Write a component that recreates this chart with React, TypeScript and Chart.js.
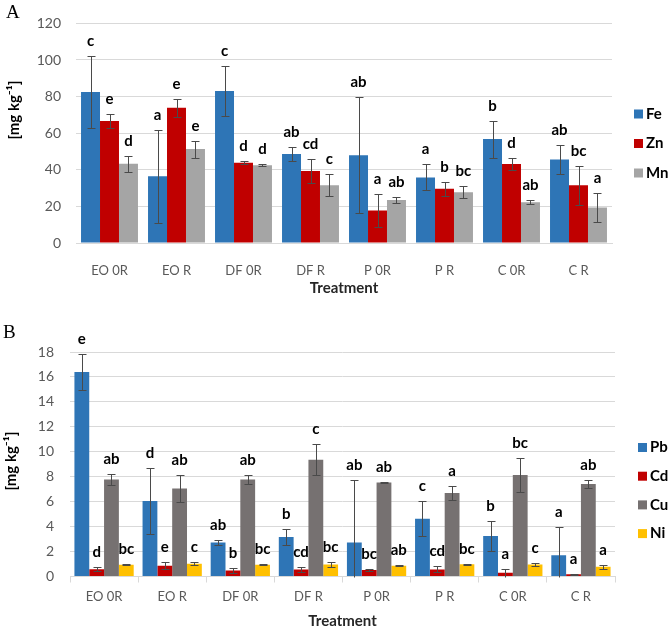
import React, { useEffect, useRef } from 'react';
import { Chart, registerables } from 'chart.js';

Chart.register(...registerables);

// ---------- data ----------
const categories = ['EO 0R', 'EO R', 'DF 0R', 'DF R', 'P 0R', 'P R', 'C 0R', 'C R'];

// Panel A
const feValues = [82.5, 36.5, 83.0, 48.6, 48.0, 35.8, 56.8, 45.6];
const feErrors = [19.5, 25.5, 13.8, 3.6, 31.8, 7.1, 10.1, 7.8];
const feLetters = ['c', 'a', 'c', 'ab', 'ab', 'a', 'b', 'ab'];

const znValues = [66.7, 73.9, 43.8, 39.4, 17.8, 29.6, 43.2, 31.5];
const znErrors = [4.0, 4.8, 0.9, 6.5, 8.8, 3.8, 3.5, 10.8];
const znLetters = ['e', 'e', 'd', 'cd', 'a', 'b', 'd', 'bc'];

const mnValues = [43.3, 51.3, 42.5, 31.5, 23.5, 27.8, 22.3, 19.4];
const mnErrors = [4.5, 4.6, 0.6, 6.0, 1.5, 3.1, 1.0, 7.7];
const mnLetters = ['d', 'e', 'd', 'c', 'ab', 'bc', 'ab', 'a'];

// Panel B
const pbValues = [16.4, 6.05, 2.73, 3.17, 2.73, 4.63, 3.25, 1.71];
const pbErrors = [1.45, 2.65, 0.23, 0.63, 5.03, 1.4, 1.2, 2.25];
const pbLetters = ['e', 'd', 'ab', 'b', 'ab', 'c', 'b', 'a'];

const cdValues = [0.58, 0.86, 0.49, 0.57, 0.53, 0.57, 0.3, 0.19];
const cdErrors = [0.17, 0.27, 0.18, 0.2, 0.06, 0.24, 0.32, 0.05];
const cdLetters = ['d', 'e', 'b', 'cd', 'bc', 'cd', 'a', 'a'];

const cuValues = [7.77, 7.05, 7.77, 9.37, 7.54, 6.7, 8.13, 7.41];
const cuErrors = [0.47, 1.1, 0.37, 1.27, 0.06, 0.58, 1.38, 0.32];
const cuLetters = ['ab', 'ab', 'ab', 'c', 'ab', 'a', 'bc', 'ab'];

const niValues = [0.94, 1.02, 0.94, 0.96, 0.86, 0.98, 0.97, 0.79];
const niErrors = [0.05, 0.13, 0.05, 0.18, 0.05, 0.04, 0.12, 0.15];
const niLetters = ['bc', 'c', 'bc', 'bc', 'ab', 'bc', 'c', 'a'];

const yTicksA = { min: 0, max: 120, step: 20 };
const yTicksB = { min: 0, max: 18, step: 2 };
const yAxisTitle = '[mg kg⁻¹]';
const xAxisTitle = 'Treatment';

// ---------- styles ----------
const FONT = 'Lato, "Liberation Sans", sans-serif';
const BLUE = '#2E75B6';
const RED = '#C00000';
const LIGHTGRAY = '#A5A5A5';
const DARKGRAY = '#767171';
const GOLD = '#FFC000';
const GRID = '#D9D9D9';
const TICK = '#595959';

const annotatePlugin = {
  id: 'annotate',
  afterDatasetsDraw(chart: any, _args: any, opts: any) {
    const { ctx, chartArea } = chart;
    const y = chart.scales.y;
    ctx.save();
    chart.data.datasets.forEach((ds: any, i: number) => {
      const meta = chart.getDatasetMeta(i);
      const errs = opts.errors[i];
      const lets = opts.letters[i];
      meta.data.forEach((bar: any, j: number) => {
        const v = ds.data[j];
        const e = errs[j];
        const x = Math.round(bar.x) + 0.5;
        const top = Math.round(y.getPixelForValue(v + e)) + 0.5;
        const rawBot = y.getPixelForValue(v - e);
        const bot = Math.round(Math.min(rawBot, chartArea.bottom)) + 0.5;
        ctx.strokeStyle = '#4a4a4a';
        ctx.lineWidth = 1;
        ctx.beginPath();
        ctx.moveTo(x, top);
        ctx.lineTo(x, bot);
        ctx.moveTo(x - 4, top);
        ctx.lineTo(x + 4, top);
        if (rawBot < chartArea.bottom) {
          ctx.moveTo(x - 4, bot);
          ctx.lineTo(x + 4, bot);
        }
        ctx.stroke();
        ctx.fillStyle = '#000000';
        ctx.font = `bold 15px ${FONT}`;
        ctx.textAlign = 'center';
        ctx.textBaseline = 'middle';
        ctx.fillText(lets[j], bar.x, top - 15);
      });
    });
    ctx.restore();
  },
  afterDraw(chart: any, _args: any, opts: any) {
    const { ctx } = chart;
    ctx.save();
    const lg = opts.legend;
    chart.data.datasets.forEach((ds: any, i: number) => {
      const cy = lg.y + i * lg.gap;
      ctx.fillStyle = ds.backgroundColor;
      ctx.fillRect(lg.x, cy - 4.5, 9, 9);
      ctx.fillStyle = '#000000';
      ctx.font = `bold 15px ${FONT}`;
      ctx.textAlign = 'left';
      ctx.textBaseline = 'middle';
      ctx.fillText(ds.label, lg.x + 12, cy);
    });
    // y axis title
    const yt = opts.yTitle;
    ctx.save();
    ctx.translate(yt.x, yt.y);
    ctx.rotate(-Math.PI / 2);
    ctx.fillStyle = '#000000';
    ctx.font = `bold 15px ${FONT}`;
    ctx.textAlign = 'center';
    ctx.textBaseline = 'middle';
    ctx.fillText(yAxisTitle, 0, 0);
    ctx.restore();
    // panel letter
    const p = opts.panel;
    ctx.fillStyle = '#000000';
    ctx.font = '19px "Liberation Serif", "DejaVu Serif", serif';
    ctx.textAlign = 'left';
    ctx.textBaseline = 'alphabetic';
    ctx.fillText(p.text, p.x, p.y);
    ctx.restore();
  },
};

function makeConfig(opts: any) {
  return {
    type: 'bar',
    data: {
      labels: categories,
      datasets: opts.series.map((s: any) => ({
        label: s.label,
        data: s.values,
        backgroundColor: s.color,
        borderWidth: 0,
        categoryPercentage: opts.catPct,
        barPercentage: 1.0,
      })),
    },
    options: {
      responsive: false,
      animation: false,
      devicePixelRatio: 1,
      layout: { padding: opts.padding },
      plugins: {
        legend: { display: false },
        tooltip: { enabled: false },
        annotate: {
          errors: opts.series.map((s: any) => s.errors),
          letters: opts.series.map((s: any) => s.letters),
          legend: opts.legend,
          panel: opts.panel,
          yTitle: opts.yTitle,
        },
      },
      scales: {
        x: {
          offset: true,
          grid: opts.xTicks
            ? { display: true, drawOnChartArea: false, drawTicks: true, tickLength: 6, color: GRID, offset: true }
            : { display: false },
          border: { display: true, color: GRID },
          ticks: { color: TICK, font: { family: FONT, size: 13 }, padding: opts.xTickPad, maxRotation: 0, autoSkip: false },
          title: {
            display: true,
            text: xAxisTitle,
            color: '#262626',
            font: { family: FONT, size: 15, weight: 'bold', lineHeight: opts.xTitleLH },
            padding: { top: 0, bottom: opts.xTitlePad },
          },
          afterFit(scale: any) {
            scale.height = opts.xHeight;
          },
        },
        y: {
          min: opts.yt.min,
          max: opts.yt.max,
          grid: { color: GRID, drawTicks: false },
          border: { display: false },
          ticks: { stepSize: opts.yt.step, color: TICK, font: { family: FONT, size: 14 }, padding: opts.yTickPad },
          title: { display: false },
          afterFit(scale: any) {
            scale.width = opts.yWidth;
          },
        },
      },
    },
    plugins: [annotatePlugin],
  };
}

function ChartCanvas({ config, width, height, top }: any) {
  const ref = useRef<HTMLCanvasElement | null>(null);
  useEffect(() => {
    if (!ref.current) return;
    const chart = new Chart(ref.current, config);
    return () => chart.destroy();
  }, []);
  return (
    <canvas
      ref={ref}
      width={width}
      height={height}
      style={{ position: 'absolute', left: 0, top, width, height, display: 'block' }}
    />
  );
}

const configA = makeConfig({
  series: [
    { label: 'Fe', values: feValues, errors: feErrors, letters: feLetters, color: BLUE },
    { label: 'Zn', values: znValues, errors: znErrors, letters: znLetters, color: RED },
    { label: 'Mn', values: mnValues, errors: mnErrors, letters: mnLetters, color: LIGHTGRAY },
  ],
  catPct: 0.85,
  padding: { left: 0, right: 60, top: 18, bottom: 0 },
  xTicks: false,
  xTickPad: 12,
  xTitleLH: 1.2,
  xTitlePad: 3,
  xHeight: 57,
  yt: yTicksA,
  yTickPad: 15,
  yWidth: 76,
  yTitle: { x: 14, y: 110 },
  legend: { x: 634, y: 114, gap: 29.5 },
  panel: { text: 'A', x: 6, y: 18 },
});

const configB = makeConfig({
  series: [
    { label: 'Pb', values: pbValues, errors: pbErrors, letters: pbLetters, color: BLUE },
    { label: 'Cd', values: cdValues, errors: cdErrors, letters: cdLetters, color: RED },
    { label: 'Cu', values: cuValues, errors: cuErrors, letters: cuLetters, color: DARKGRAY },
    { label: 'Ni', values: niValues, errors: niErrors, letters: niLetters, color: GOLD },
  ],
  catPct: 0.87,
  padding: { left: 0, right: 57, top: 42, bottom: 0 },
  xTicks: true,
  xTickPad: 7,
  xTitleLH: 1.0,
  xTitlePad: 0,
  xHeight: 52.5,
  yt: yTicksB,
  yTickPad: 16,
  yWidth: 70,
  yTitle: { x: 11, y: 151 },
  legend: { x: 638, y: 137.5, gap: 28.7 },
  panel: { text: 'B', x: 3, y: 28 },
});

export default function App() {
  return (
    <div style={{ position: 'absolute', left: 0, top: 0, width: 672, height: 629, background: '#ffffff', overflow: 'hidden' }}>
      <ChartCanvas config={configA} width={672} height={300} top={0} />
      <ChartCanvas config={configB} width={672} height={319} top={310} />
    </div>
  );
}
